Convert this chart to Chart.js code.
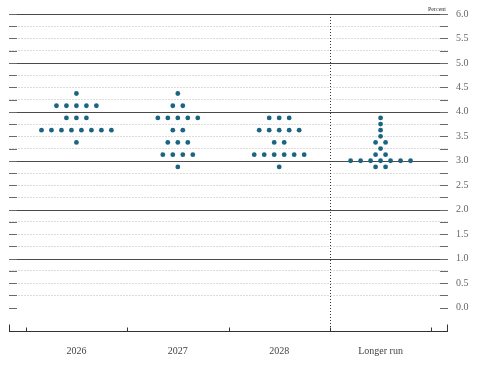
<!DOCTYPE html>
<html>
<head>
<meta charset="utf-8">
<script src="https://cdn.jsdelivr.net/npm/chart.js@4/dist/chart.umd.min.js"></script>
<style>
  html, body { margin: 0; padding: 0; background: #fff; }
  #wrap { width: 480px; height: 365px; position: relative; }
</style>
</head>
<body>
<div id="wrap"><canvas id="c" width="480" height="365"></canvas></div>
<script>
// ---- Data (participants' projections of the midpoint of the target range, percent) ----
const categories = ['2026', '2027', '2028', 'Longer run'];
const dots2026 = [4.375,
  4.125, 4.125, 4.125, 4.125, 4.125,
  3.875, 3.875, 3.875,
  3.625, 3.625, 3.625, 3.625, 3.625, 3.625, 3.625, 3.625,
  3.375];
const dots2027 = [4.375,
  4.125, 4.125,
  3.875, 3.875, 3.875, 3.875, 3.875,
  3.625, 3.625,
  3.375, 3.375, 3.375,
  3.125, 3.125, 3.125, 3.125,
  2.875];
const dots2028 = [3.875, 3.875, 3.875,
  3.625, 3.625, 3.625, 3.625, 3.625,
  3.375, 3.375,
  3.125, 3.125, 3.125, 3.125, 3.125, 3.125,
  2.875];
const dotsLongerRun = [3.875, 3.75, 3.625, 3.5,
  3.375, 3.375,
  3.25,
  3.125, 3.125,
  3.0, 3.0, 3.0, 3.0, 3.0, 3.0, 3.0,
  2.875, 2.875];
const yTickLabels = ['0.0', '0.5', '1.0', '1.5', '2.0', '2.5', '3.0', '3.5', '4.0', '4.5', '5.0', '5.5', '6.0'];

const allDots = [dots2026, dots2027, dots2028, dotsLongerRun];
const DOT_SPACING = 0.0985; // horizontal spacing between dots in a row (category units)

function toPoints(values, catIndex) {
  const counts = {};
  values.forEach(v => { counts[v] = (counts[v] || 0) + 1; });
  const seen = {};
  return values.map(v => {
    const k = seen[v] || 0; seen[v] = k + 1;
    return { x: catIndex + (k - (counts[v] - 1) / 2) * DOT_SPACING, y: v };
  });
}

const DOT_COLOR = '#1c6582';
const datasets = allDots.map((vals, i) => ({
  label: categories[i],
  data: toPoints(vals, i),
  pointRadius: 2.4,
  pointHoverRadius: 2.4,
  pointBackgroundColor: DOT_COLOR,
  pointBorderWidth: 0,
  showLine: false
}));

const SERIF = "'Liberation Serif', 'DejaVu Serif', serif";

const decor = {
  id: 'decor',
  beforeDatasetsDraw(chart) {
    const { ctx, chartArea: a, scales: { x, y } } = chart;
    ctx.save();
    ctx.lineWidth = 1;
    // solid integer lines
    ctx.strokeStyle = '#4a4a4a';
    for (let v = 1; v <= 6; v++) {
      const py = Math.round(y.getPixelForValue(v)) + 0.5;
      ctx.beginPath(); ctx.moveTo(a.left, py); ctx.lineTo(a.right, py); ctx.stroke();
    }
    // edge tick dashes
    ctx.strokeStyle = '#6a6a6a';
    for (let v = 0; v <= 6.001; v += 0.25) {
      const py = Math.round(y.getPixelForValue(v)) + 0.5;
      ctx.beginPath(); ctx.moveTo(a.left, py); ctx.lineTo(a.left + 8, py); ctx.stroke();
      ctx.beginPath(); ctx.moveTo(a.right - 8, py); ctx.lineTo(a.right, py); ctx.stroke();
    }
    // bottom axis
    const by = Math.round(a.bottom) - 0.5;
    ctx.strokeStyle = '#333';
    ctx.beginPath(); ctx.moveTo(a.left, by); ctx.lineTo(a.right, by); ctx.stroke();
    // end ticks (taller)
    [a.left + 0.5, a.right - 0.5].forEach(px => {
      ctx.beginPath(); ctx.moveTo(px, by); ctx.lineTo(px, by - 7); ctx.stroke();
    });
    // category boundary ticks
    for (let i = 0; i <= categories.length; i++) {
      const px = Math.round(x.getPixelForValue(i - 0.5)) + 0.5;
      ctx.beginPath(); ctx.moveTo(px, by); ctx.lineTo(px, by - 4); ctx.stroke();
    }
    // dotted separator before longer run
    const sx = Math.round(x.getPixelForValue(categories.length - 1.5)) + 0.5;
    ctx.strokeStyle = '#333';
    ctx.setLineDash([1, 2]);
    ctx.beginPath(); ctx.moveTo(sx, a.top); ctx.lineTo(sx, by); ctx.stroke();
    ctx.setLineDash([]);
    // Percent label
    ctx.fillStyle = '#333';
    ctx.font = "6px " + SERIF;
    ctx.textAlign = 'right';
    ctx.textBaseline = 'bottom';
    ctx.fillText('Percent', a.right - 2, a.top - 2);
    ctx.restore();
  }
};

new Chart(document.getElementById('c'), {
  type: 'scatter',
  data: { datasets },
  options: {
    responsive: false,
    animation: false,
    events: [],
    layout: { padding: { left: 9, top: 12, right: 0, bottom: 0 } },
    plugins: { legend: { display: false }, tooltip: { enabled: false } },
    scales: {
      x: {
        type: 'linear',
        min: -0.665,
        max: categories.length - 0.335,
        afterBuildTicks: s => { s.ticks = categories.map((c, i) => ({ value: i })); },
        afterFit: s => { s.height = 33; },
        grid: { display: false, drawTicks: false },
        border: { display: false },
        ticks: {
          padding: 13,
          maxRotation: 0,
          autoSkip: false,
          color: '#444',
          font: { family: SERIF, size: 10 },
          callback: v => categories[v]
        }
      },
      y: {
        position: 'right',
        min: -0.5,
        max: 6,
        afterBuildTicks: s => {
          const t = [];
          for (let v = -0.5; v <= 6.001; v += 0.25) t.push({ value: Math.round(v * 100) / 100 });
          s.ticks = t;
        },
        afterFit: s => { s.width = 32; },
        grid: {
          drawTicks: false,
          lineWidth: 1,
          color: c => {
            const v = c.tick ? c.tick.value : 0;
            if (v < 0 || Math.abs(v - Math.round(v)) < 1e-6) return 'rgba(0,0,0,0)';
            return '#dcdcdc';
          }
        },
        border: { display: false, dash: [2, 1] },
        ticks: {
          padding: 8,
          color: '#666',
          font: { family: SERIF, size: 10 },
          autoSkip: false,
          callback: v => {
            const label = Number(v).toFixed(1);
            return (v >= 0 && Math.abs(v * 2 - Math.round(v * 2)) < 1e-6 && yTickLabels.includes(label)) ? label : '';
          }
        }
      }
    }
  },
  plugins: [decor]
});
</script>
</body>
</html>
